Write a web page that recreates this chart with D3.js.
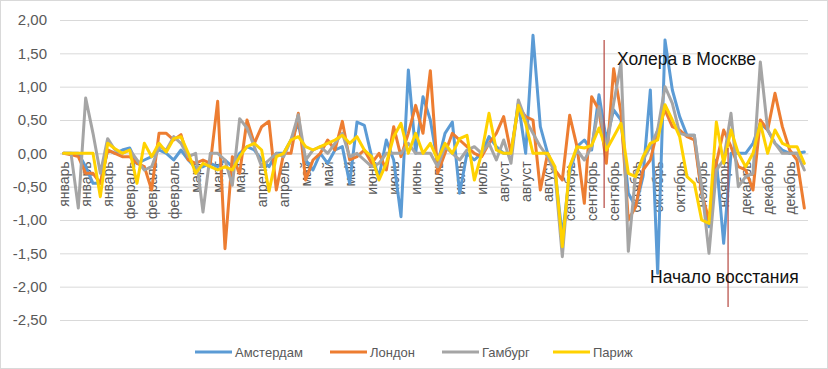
<!DOCTYPE html>
<html><head><meta charset="utf-8">
<script src="https://cdn.jsdelivr.net/npm/d3@7"></script>
<style>body{margin:0;background:#fff}svg{display:block}text{font-family:"Liberation Sans",Arial,sans-serif}</style>
</head><body><svg id="c" width="828" height="369"></svg>
<script>
// ---- data ----
const labelMonths = ["январь","январь","январь","февраль","февраль","февраль","март","март","март",
  "апрель","апрель","май","май","май","июнь","июнь","июнь","июль","июль","июль",
  "август","август","август","сентябрь","сентябрь","сентябрь","октябрь","октябрь","октябрь",
  "ноябрь","ноябрь","декабрь","декабрь","декабрь"];
const categories = labelMonths.flatMap(m => [m, m, m]); // 102 points, one label every 3rd
const seriesNames = ["Амстердам","Лондон","Гамбург","Париж"];
const amsterdam = [0,0,0,-0.2,-0.45,-0.45,0.05,0,0.05,0.08,-0.15,-0.1,-0.05,0.05,0,-0.1,0.05,
  -0.1,-0.22,-0.2,-0.15,-0.2,-0.1,-0.2,0,0.1,0.05,-0.1,-0.2,0,0,0.2,0.45,-0.1,
  -0.25,0,-0.15,0.05,0.1,-0.45,0.47,0.42,-0.05,-0.35,0.2,-0.1,-0.95,1.25,0,0.85,0.5,
  -0.15,0.3,0.47,-0.6,0,-0.1,0,0.25,0.1,0,0,0.75,0,1.77,0.4,0,-0.25,
  -1.25,-0.3,0.1,0.2,0.05,0.88,0.2,0.65,0.5,-0.6,-0.8,-0.35,0.95,-1.8,1.7,0.95,0.55,
  0.27,0.27,-0.6,-1.1,-0.1,-1.35,0,0,0,0.15,0.45,0.35,0.15,0.05,0,0,0.02];
const london = [0,-0.02,-0.05,-0.3,-0.3,-0.45,0.05,0,-0.05,-0.05,-0.15,-0.2,-0.55,0.3,0.3,0.2,0.28,
  -0.1,-0.15,-0.1,-0.15,0.78,-1.43,-0.05,-0.3,0.5,0.15,0.4,0.48,-0.55,0,0,0.6,-0.4,
  -0.1,0,0.2,0.05,0.48,-0.1,-0.05,0.05,-0.15,0,-0.25,0.4,-0.05,0.3,0.72,0.3,1.24,
  -0.3,0,0.3,0.2,0.1,0,-0.05,0.15,0.3,0.55,0,0.7,0.55,0.5,-0.55,0,-0.25,
  -0.4,0.57,0.1,-0.75,0.85,0.65,-0.15,1.27,0.6,-1.0,-0.8,-0.25,-0.1,0.35,0.65,0.4,0.35,
  0.25,0.2,-0.6,-1.0,-0.15,0.35,0.1,-0.2,-0.25,-0.55,0.5,0.35,0.9,0.4,0.05,-0.1,-0.82];
const hamburg = [0,0,-0.82,0.83,0.3,-0.3,0.22,0.05,0,0.05,-0.1,-0.25,-0.2,0.1,0.05,0.25,0.15,
  -0.05,0,-0.88,0,0,-0.1,-0.48,0.52,0.38,0.1,-0.2,-0.1,0,-0.05,0.2,0.58,-0.1,
  0.05,0.1,0,0.15,0.3,-0.05,0,-0.1,-0.2,-0.15,0,0,0,0.15,0,0,0,
  -0.2,0.1,0,-0.1,0.05,0.1,0,0.15,-0.1,0.2,-0.15,0.8,0.5,0.3,0.1,-0.05,-0.3,
  -1.55,-0.2,0.05,-0.1,0.1,0.7,0.05,0.75,1.35,-1.47,-0.3,-0.1,0.1,0.35,1.0,0.75,0.3,
  0.27,0.27,-0.5,-1.5,-0.25,-0.1,0.6,-0.5,-0.35,-0.3,1.37,0.35,0.15,0,0,0,-0.25];
const paris = [0,0,0,0,0,-0.65,0.15,0.07,0,0.05,-0.45,0.15,-0.05,0.15,0.02,0.22,0.25,
  0,-0.3,-0.15,-0.2,-0.25,-0.2,-0.25,-0.05,0.1,0.15,0.05,-0.57,-0.05,0,0.2,0.25,0.1,
  0.05,0.1,0.15,0.2,0.27,0.15,0.25,0.05,-0.05,-0.4,-0.15,0.25,0.45,0,0.3,0,0.15,
  -0.1,0.15,0,0.22,0.27,-0.4,0,0.6,0.05,0,0,0.72,0.45,0,0,0,-0.2,
  -1.4,-0.2,0.1,0.08,0.12,0.38,0.05,0.25,0.45,-0.3,-0.35,-0.05,0.15,0.2,0.73,0.5,0.25,
  -0.35,-0.45,-1.0,-1.05,0.47,-0.15,0.35,0,-0.2,0,0.45,0,0.35,0.15,0.1,0.1,-0.15];
const yTicks = [2,1.5,1,0.5,0,-0.5,-1,-1.5,-2,-2.5];
const annotationTexts = ["Холера в Москве","Начало восстания"];

// ---- drawing ----
const svg = d3.select("#c");
const colors = ["#5b9bd5","#ed7d31","#a5a5a5","#ffd200"];
const seriesData = [amsterdam, london, hamburg, paris];
const L = 60, R = 808, T = 20, B = 320;
const y = d3.scaleLinear().domain([-2.5, 2]).range([B, T]);
const x = d3.scaleBand().domain(d3.range(categories.length)).range([L, R]);
const cx = i => x(i) + x.bandwidth() / 2;
const xf = v => L + x.step() * (v + 0.5); // fractional category position

svg.append("rect").attr("x",0.5).attr("y",0.5).attr("width",827).attr("height",368)
  .attr("fill","#fff").attr("stroke","#d9d9d9");

const fmt = d3.formatLocale({decimal:",",thousands:" ",grouping:[3],currency:["",""],minus:"-"}).format(".2f");

// gridlines + y axis
const ya = svg.append("g").attr("transform",`translate(${L},0)`)
  .call(d3.axisLeft(y).tickValues(yTicks).tickSize(-(R-L)).tickPadding(13).tickFormat(fmt));
ya.select(".domain").remove();
ya.selectAll(".tick line").attr("stroke","#d9d9d9");
ya.selectAll(".tick text").attr("fill","#595959").style("font-size","15px")
  .style("font-family",'"Liberation Sans",Arial,sans-serif');

// x axis at zero
const xa = svg.append("g").attr("transform",`translate(0,${y(0)})`)
  .call(d3.axisBottom(x).tickValues(d3.range(0, categories.length, 3)).tickSize(0).tickFormat(i => categories[i]));
xa.select(".domain").attr("stroke","#d9d9d9");
xa.selectAll(".tick text").attr("transform","rotate(-90)").attr("x",-8).attr("y",0).attr("dy","0.35em")
  .style("text-anchor","end").attr("fill","#595959").style("font-size","14px")
  .style("font-family",'"Liberation Sans",Arial,sans-serif');

// series lines
const line = d3.line().x((d,i) => cx(i)).y(d => y(d));
seriesData.forEach((s, k) => {
  svg.append("path").datum(s).attr("d", line).attr("fill","none")
    .attr("stroke", colors[k]).attr("stroke-width", 3)
    .attr("stroke-linejoin","round").attr("stroke-linecap","round");
});

// annotations
svg.append("line").attr("x1",xf(73.7)).attr("x2",xf(73.7)).attr("y1",40).attr("y2",208)
  .attr("stroke","#b5473f").attr("stroke-width",1.2);
svg.append("line").attr("x1",xf(90.6)).attr("x2",xf(90.6)).attr("y1",148).attr("y2",307)
  .attr("stroke","#b5473f").attr("stroke-width",1.2);
svg.append("text").attr("x",617).attr("y",65).text(annotationTexts[0])
  .attr("fill","#111").style("font-size","17.5px");
svg.append("text").attr("x",650).attr("y",283).text(annotationTexts[1])
  .attr("fill","#111").style("font-size","17.5px");

// legend
const legX = [195, 330, 442, 553];
seriesNames.forEach((n, k) => {
  const g = svg.append("g").attr("transform",`translate(${legX[k]},352)`);
  g.append("line").attr("x1",0).attr("x2",37).attr("stroke",colors[k]).attr("stroke-width",3);
  g.append("text").attr("x",40).attr("dy","0.35em").text(n).attr("fill","#595959").style("font-size","13px");
});
</script></body></html>
